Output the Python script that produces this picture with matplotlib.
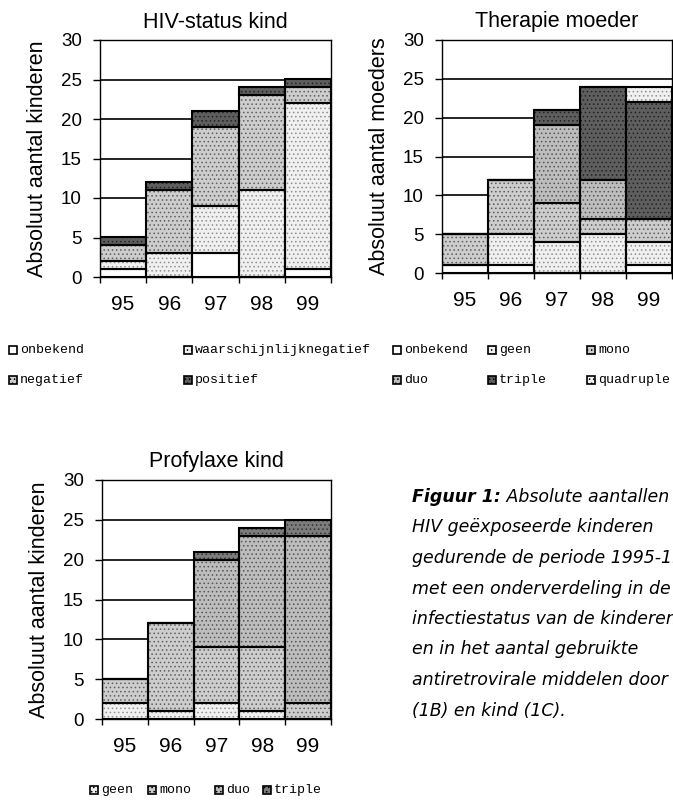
import numpy as np
import matplotlib
matplotlib.use("Agg")
import matplotlib.pyplot as plt
from matplotlib.patches import Rectangle

# ---- data -------------------------------------------------------------
years = ["95", "96", "97", "98", "99"]

# HIV-status kind
hiv_labels = ["onbekend", "waarschijnlijknegatief", "negatief", "positief"]
hiv_onbekend = [1, 0, 3, 0, 1]
hiv_wsch_neg = [1, 3, 6, 11, 21]
hiv_negatief = [2, 8, 10, 12, 2]
hiv_positief = [1, 1, 2, 1, 1]

# Therapie moeder
ther_labels = ["onbekend", "geen", "mono", "duo", "triple", "quadruple"]
ther_onbekend = [1, 1, 0, 0, 1]
ther_geen = [0, 4, 4, 5, 3]
ther_mono = [4, 7, 5, 2, 3]
ther_duo = [0, 0, 10, 5, 0]
ther_triple = [0, 0, 2, 12, 15]
ther_quadruple = [0, 0, 0, 0, 2]

# Profylaxe kind
prof_labels = ["geen", "mono", "duo", "triple"]
prof_geen = [2, 1, 2, 1, 0]
prof_mono = [3, 11, 7, 8, 2]
prof_duo = [0, 0, 11, 14, 21]
prof_triple = [0, 0, 1, 1, 2]

caption_lines = [
    ("Figuur 1:", " Absolute aantallen"),
    ("", "HIV geëxposeerde kinderen"),
    ("", "gedurende de periode 1995-1999"),
    ("", "met een onderverdeling in de"),
    ("", "infectiestatus van de kinderen"),
    ("", "en in het aantal gebruikte"),
    ("", "antiretrovirale middelen door"),
    ("", "(1B) en kind (1C)."),
]

# ---- styling ----------------------------------------------------------
W, H = 673, 800
plt.rcParams["font.family"] = ["Liberation Sans", "DejaVu Sans"]
fig = plt.figure(figsize=(W / 100, H / 100), dpi=100)

# (facecolor, hatch colour, hatch pattern) for stippled grey fills
STYLE = {
    "white":  ("#ffffff", "#ffffff", None),
    "light":  ("#f0f0f0", "#909090", "...."),
    "medium": ("#cdcdcd", "#5e5e5e", "...."),
    "mgray":  ("#bdbdbd", "#555555", "...."),
    "dark":   ("#7c7c7c", "#333333", "...."),
    "darker": ("#5e5e5e", "#222222", "...."),
}
plt.rcParams["hatch.linewidth"] = 0.6


def px_axes(left, top, right, bottom):
    return fig.add_axes([left / W, 1 - bottom / H, (right - left) / W, (bottom - top) / H])


def stacked(ax, series, styles, title, ylabel):
    x = np.arange(len(years))
    base = np.zeros(len(years))
    for vals, st in zip(series, styles):
        fc, hc, hatch = STYLE[st]
        vals = np.asarray(vals, dtype=float)
        ax.bar(x, vals, width=1.0, bottom=base, facecolor=fc, edgecolor=hc,
               hatch=hatch, linewidth=0, zorder=2)
        ax.bar(x, vals, width=1.0, bottom=base, facecolor="none",
               edgecolor="black", linewidth=1.5, zorder=3)
        base += vals
    ax.set_xlim(-0.5, len(years) - 0.5)
    ax.set_ylim(0, 30)
    ax.set_yticks(range(0, 31, 5))
    ax.yaxis.grid(True, color="black", linewidth=1.2, zorder=0)
    ax.set_axisbelow(True)
    ax.set_xticks(np.arange(len(years) + 1) - 0.5)
    ax.set_xticklabels([])
    ax.set_xticks(x, minor=True)
    ax.set_xticklabels(years, minor=True, fontsize=15)
    ax.tick_params(axis="x", which="major", length=4, width=1, direction="out")
    ax.tick_params(axis="x", which="minor", length=0, pad=13)
    ax.tick_params(axis="y", length=5, width=1, labelsize=13.5, pad=8)
    for s in ax.spines.values():
        s.set_linewidth(1.0)
        s.set_color("black")
    ax.set_title(title, fontsize=15.5, pad=9)
    ax.set_ylabel(ylabel, fontsize=15.5, labelpad=9)


def legend_item(x, y, label, st):
    fc, hc, hatch = STYLE[st]
    fig.add_artist(Rectangle((x / W, 1 - (y + 4) / H), 8 / W, 8 / H,
                             transform=fig.transFigure, facecolor=fc,
                             edgecolor="black", linewidth=1.2, hatch=hatch))
    fig.text((x + 11) / W, 1 - y / H, label, fontsize=9.5,
             family=["Liberation Mono", "DejaVu Sans Mono"], va="center", ha="left")


# ---- panels -----------------------------------------------------------
axA = px_axes(100, 40, 331, 277)
hiv_styles = ["white", "light", "medium", "darker"]
stacked(axA, [hiv_onbekend, hiv_wsch_neg, hiv_negatief, hiv_positief],
        hiv_styles, "HIV-status kind", "Absoluut aantal kinderen")

axB = px_axes(442, 40, 672, 273)
ther_styles = ["white", "light", "medium", "mgray", "darker", "light"]
stacked(axB, [ther_onbekend, ther_geen, ther_mono, ther_duo, ther_triple, ther_quadruple],
        ther_styles, "Therapie moeder", "Absoluut aantal moeders")

axC = px_axes(102, 480, 331, 719)
prof_styles = ["light", "medium", "mgray", "dark"]
stacked(axC, [prof_geen, prof_mono, prof_duo, prof_triple],
        prof_styles, "Profylaxe kind", "Absoluut aantal kinderen")

# ---- legends ----------------------------------------------------------
legend_item(9, 350, hiv_labels[0], hiv_styles[0])
legend_item(184, 350, hiv_labels[1], hiv_styles[1])
legend_item(9, 380, hiv_labels[2], hiv_styles[2])
legend_item(184, 380, hiv_labels[3], hiv_styles[3])

legend_item(393, 350, ther_labels[0], ther_styles[0])
legend_item(488, 350, ther_labels[1], ther_styles[1])
legend_item(587, 350, ther_labels[2], ther_styles[2])
legend_item(393, 380, ther_labels[3], ther_styles[3])
legend_item(488, 380, ther_labels[4], ther_styles[4])
legend_item(587, 380, ther_labels[5], ther_styles[5])

for lx, lab, st in zip([90, 148, 215, 263], prof_labels, prof_styles):
    legend_item(lx, 790, lab, st)

# ---- caption ----------------------------------------------------------
cap_x, cap_y0, cap_dy = 412, 497, 30.5
cap_size = 12.5
for i, (bold, rest) in enumerate(caption_lines):
    y = 1 - (cap_y0 + i * cap_dy) / H
    xr = cap_x / W
    if bold:
        t = fig.text(xr, y, bold, fontsize=cap_size, family="DejaVu Sans",
                     style="italic", weight="bold", va="center", ha="left")
        fig.canvas.draw()
        xr = t.get_window_extent().x1 / W
    fig.text(xr, y, rest, fontsize=cap_size, family="DejaVu Sans",
             style="italic", va="center", ha="left")

fig.savefig("out.png", dpi=100)
